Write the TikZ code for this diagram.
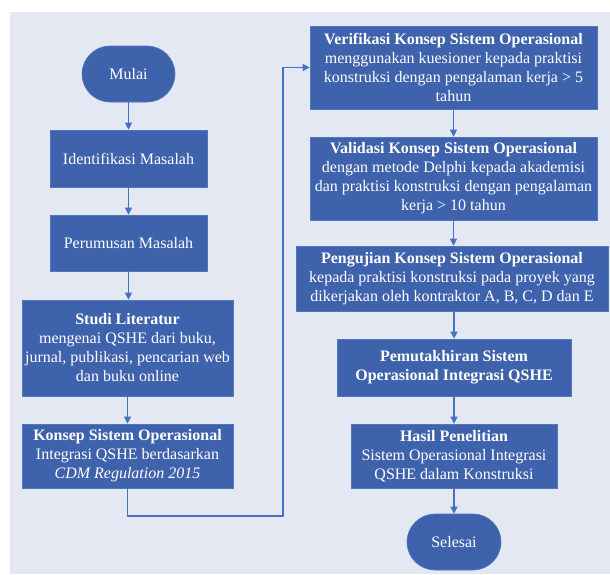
\documentclass[tikz,border=0pt]{standalone}
\usepackage{fontspec}
\setmainfont{Liberation Serif}
\usetikzlibrary{arrows.meta}
\definecolor{boxblue}{RGB}{63,98,172}
\definecolor{boxedge}{RGB}{80,118,190}
\definecolor{flowblue}{RGB}{68,114,196}
\definecolor{panel}{RGB}{227,232,243}
\newcommand{\hd}[1]{\textbf{#1}}

\begin{document}
\begin{tikzpicture}[x={(1pt,0)},y={(0,-1pt)},>={Triangle[width=7pt,length=7pt]},
	box/.style={draw=boxedge,line width=.6pt,fill=boxblue,text=white,align=center,
		inner sep=0pt,font=\fontsize{16}{19}\selectfont},
	term/.style={box,rounded corners=28pt},
	flow/.style={->,draw=flowblue,line width=1.1pt}]

\useasboundingbox (0,0) rectangle (610,574);
\fill [white] (0,0) rectangle (610,574);
\fill [panel] (10,12) rectangle (610,574);

% left column
\begin{scope}
	\node [term,minimum width=93pt,minimum height=56pt] (mulai) at (128.5,74) {Mulai};
	\node [box,minimum width=157pt,minimum height=57pt] (ident) at (128.5,158.5) {Identifikasi Masalah};
	\node [box,minimum width=157pt,minimum height=56pt] (perum) at (128.5,243) {Perumusan Masalah};
	\node [box,minimum width=211pt,minimum height=96pt] (studi) at (127.5,348)
		{\hd{Studi Literatur}\\ mengenai QSHE dari buku,\\ jurnal, publikasi, pencarian web\\ dan buku online};
	\node [box,minimum width=211pt,minimum height=64pt] (konsep) at (127.5,456)
		{\hd{Konsep Sistem Operasional}\\ Integrasi QSHE berdasarkan\\ \textit{CDM Regulation 2015}};
\end{scope}

% right column
\begin{scope}
	\node [box,minimum width=287pt,minimum height=83pt] (verif) at (453.5,67.5)
		{\hd{Verifikasi Konsep Sistem Operasional}\\ menggunakan kuesioner kepada praktisi\\ konstruksi dengan pengalaman kerja > 5\\ tahun};
	\node [box,minimum width=287pt,minimum height=83pt] (valid) at (453.5,178.5)
		{\hd{Validasi Konsep Sistem Operasional}\\ dengan metode Delphi kepada akademisi\\ dan praktisi konstruksi dengan pengalaman\\ kerja > 10 tahun};
	\node [box,minimum width=312pt,minimum height=65pt] (uji) at (452,278.5)
		{\hd{Pengujian Konsep Sistem Operasional}\\ kepada praktisi konstruksi pada proyek yang\\ dikerjakan oleh kontraktor A, B, C, D dan E};
	\node [box,minimum width=234pt,minimum height=57pt] (mutakhir) at (454,367.5)
		{\hd{Pemutakhiran Sistem}\\ \hd{Operasional Integrasi QSHE}};
	\node [box,minimum width=206pt,minimum height=64pt] (hasil) at (454,456)
		{\hd{Hasil Penelitian}\\ Sistem Operasional Integrasi\\ QSHE dalam Konstruksi};
	\node [term,minimum width=94pt,minimum height=56pt] (selesai) at (454,542) {Selesai};
\end{scope}

\coordinate (belok) at (283,516);

\draw [flow] (mulai) -- (ident);
\draw [flow] (ident) -- (perum);
\draw [flow] (perum) -- (perum.south |- studi.north);
\draw [flow] (studi.south -| konsep.north) -- (konsep);
\draw [flow] (konsep.south) |- (belok) |- (verif.west);
\draw [flow] (verif.south -| valid.north) -- (valid.north);
\draw [flow] (valid.south) -- (valid.south |- uji.north);
\draw [flow] (uji.south -| mutakhir.north) -- (mutakhir.north);
\draw [flow] (mutakhir) -- (hasil);
\draw [flow] (hasil) -- (selesai);

\end{tikzpicture}
\end{document}
